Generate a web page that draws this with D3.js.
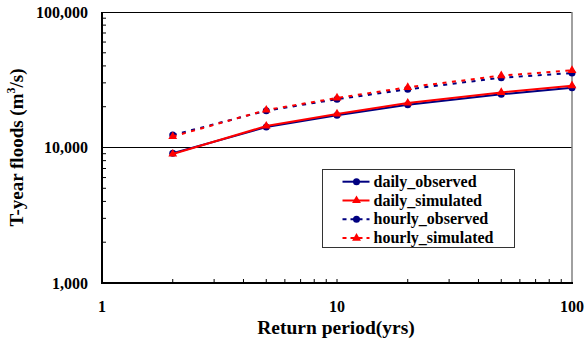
<!DOCTYPE html>
<html>
<head>
<meta charset="utf-8">
<script src="https://cdn.jsdelivr.net/npm/d3@7"></script>
<style>
  body { margin: 0; background: #fff; }
  svg { display: block; }
  text { font-family: "Liberation Serif", "Times New Roman", serif; font-weight: bold; fill: #000; }
</style>
</head>
<body>
<div id="chart"></div>
<script>
// Data
const returnPeriods = [2, 5, 10, 20, 50, 100];
const dailyObserved = [9080, 14150, 17300, 20700, 24700, 27600];
const dailySimulated = [8950, 14400, 17700, 21300, 25500, 28600];
const hourlyObserved = [12350, 18700, 22700, 26900, 32700, 35400];
const hourlySimulated = [12050, 18900, 23200, 27800, 33900, 37100];
const seriesNames = ["daily_observed", "daily_simulated", "hourly_observed", "hourly_simulated"];
const xTickLabels = [1, 10, 100];
const yTickLabels = [1000, 10000, 100000];

const width = 587, height = 354;
const plot = { left: 102, right: 572, top: 12, bottom: 283 };

const svg = d3.select("#chart")
    .append("svg")
    .attr("width", width)
    .attr("height", height);

const x = d3.scaleLog().domain([1, 100]).range([plot.left, plot.right]);
const y = d3.scaleLog().domain([1000, 100000]).range([plot.bottom, plot.top]);

// Minor ticks (inward)
const minorX = [];
const minorY = [];
for (let d = 1; d <= 10; d *= 10) for (let m = 2; m <= 9; m++) minorX.push(d * m);
for (let d = 1000; d <= 10000; d *= 10) for (let m = 2; m <= 9; m++) minorY.push(d * m);
minorX.push(10);

svg.append("g").selectAll("line").data(minorX).enter().append("line")
    .attr("x1", d => x(d)).attr("x2", d => x(d))
    .attr("y1", plot.bottom).attr("y2", plot.bottom - 4)
    .attr("stroke", "#000").attr("stroke-width", 1);

svg.append("g").selectAll("line").data(minorY).enter().append("line")
    .attr("x1", plot.left).attr("x2", plot.left + 4)
    .attr("y1", d => y(d)).attr("y2", d => y(d))
    .attr("stroke", "#000").attr("stroke-width", 1);

// Gridline at 10,000
svg.append("line")
    .attr("x1", plot.left).attr("x2", plot.right)
    .attr("y1", y(10000)).attr("y2", y(10000))
    .attr("stroke", "#000").attr("stroke-width", 1);

// Frame
svg.append("line")
    .attr("x1", plot.left).attr("x2", plot.right)
    .attr("y1", plot.top + 0.5).attr("y2", plot.top + 0.5)
    .attr("stroke", "#000").attr("stroke-width", 1.2);
svg.append("line")
    .attr("x1", plot.right).attr("x2", plot.right)
    .attr("y1", plot.top).attr("y2", plot.bottom)
    .attr("stroke", "#808080").attr("stroke-width", 1.5);
svg.append("line")
    .attr("x1", plot.left).attr("x2", plot.left)
    .attr("y1", plot.top).attr("y2", plot.bottom + 1)
    .attr("stroke", "#000").attr("stroke-width", 2);
svg.append("line")
    .attr("x1", plot.left).attr("x2", plot.right + 1)
    .attr("y1", plot.bottom).attr("y2", plot.bottom)
    .attr("stroke", "#000").attr("stroke-width", 2);

// Tick labels
const fmt = d3.format(",");
svg.append("g").selectAll("text").data(yTickLabels).enter().append("text")
    .attr("x", 88).attr("y", d => y(d) + 5.5)
    .attr("text-anchor", "end")
    .style("font-size", "16px")
    .text(d => fmt(d));

svg.append("g").selectAll("text").data(xTickLabels).enter().append("text")
    .attr("x", d => x(d)).attr("y", 311.5)
    .attr("text-anchor", "middle")
    .style("font-size", "16px")
    .text(d => d);

// Axis titles
svg.append("text")
    .attr("x", (plot.left + plot.right) / 2 - 1).attr("y", 334)
    .attr("text-anchor", "middle")
    .style("font-size", "19.5px")
    .text("Return period(yrs)");

const yTitle = svg.append("text")
    .attr("transform", `translate(23,${(plot.top + plot.bottom) / 2}) rotate(-90)`)
    .attr("text-anchor", "middle")
    .style("font-size", "19px");
yTitle.append("tspan").text("T-year floods (m");
yTitle.append("tspan").attr("dy", -8).style("font-size", "12px").text("3");
yTitle.append("tspan").attr("dy", 8).text("/s)");

// Series
const series = [
    { name: seriesNames[0], values: dailyObserved, color: "#000080", dash: null, marker: "circle" },
    { name: seriesNames[1], values: dailySimulated, color: "#ff0000", dash: null, marker: "triangle" },
    { name: seriesNames[2], values: hourlyObserved, color: "#000080", dash: "4,5.5", marker: "circle" },
    { name: seriesNames[3], values: hourlySimulated, color: "#ff0000", dash: "4,5.5", marker: "triangle" }
];

const line = d3.line()
    .x(d => x(d.t))
    .y(d => y(d.v));

function drawMarker(g, type, color) {
    if (type === "circle") {
        g.append("circle").attr("r", 3.5).attr("fill", color);
    } else {
        g.append("path")
            .attr("d", d3.symbol().type(d3.symbolTriangle).size(34)())
            .attr("fill", color);
    }
}

series.forEach(s => {
    const pts = returnPeriods.map((t, i) => ({ t: t, v: s.values[i] }));
    svg.append("path")
        .datum(pts)
        .attr("fill", "none")
        .attr("stroke", s.color)
        .attr("stroke-width", 2)
        .attr("stroke-dasharray", s.dash)
        .attr("d", line);
    pts.forEach(p => {
        const g = svg.append("g").attr("transform", `translate(${x(p.t)},${y(p.v)})`);
        drawMarker(g, s.marker, s.color);
    });
});

// Legend
const legend = svg.append("g").attr("transform", "translate(322.5,169.5)");
legend.append("rect")
    .attr("width", 192).attr("height", 78)
    .attr("fill", "#fff")
    .attr("stroke", "#333").attr("stroke-width", 1);

series.forEach((s, i) => {
    const row = legend.append("g").attr("transform", `translate(0,${12.2 + i * 18.8})`);
    row.append("line")
        .attr("x1", 20).attr("x2", 47)
        .attr("stroke", s.color).attr("stroke-width", 2)
        .attr("stroke-dasharray", s.dash ? "4,4" : null);
    const m = row.append("g").attr("transform", "translate(34,0)");
    drawMarker(m, s.marker, s.color);
    row.append("text")
        .attr("x", 51).attr("y", 5)
        .style("font-size", "16px")
        .text(s.name);
});
</script>
</body>
</html>
